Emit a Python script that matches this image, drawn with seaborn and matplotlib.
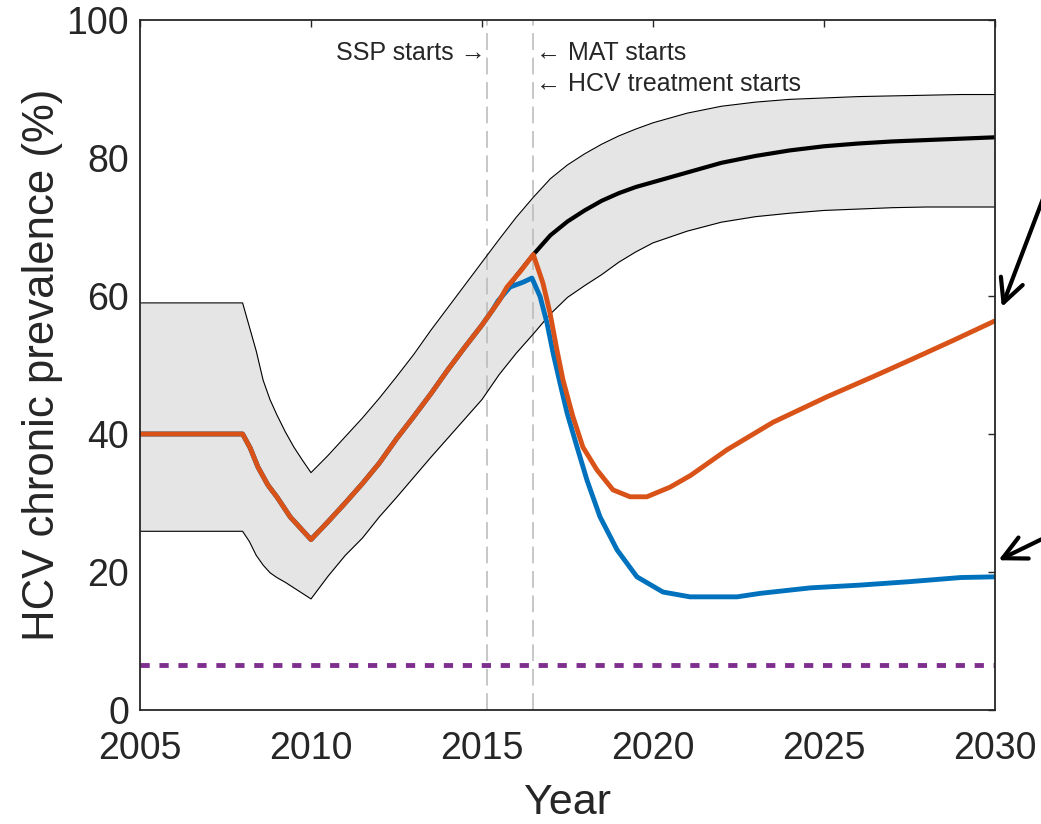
import matplotlib
matplotlib.use("Agg")
import matplotlib.pyplot as plt
import seaborn as sns
import pandas as pd

# ---- uncertainty band (upper / lower bounds of chronic prevalence, %) ----
band_years = [2005, 2008, 2008.2, 2008.4, 2008.6, 2008.8, 2009.0, 2009.25, 2009.5,
              2009.75, 2010.0, 2010.5, 2011.0, 2011.5, 2012.0, 2012.5, 2013.0, 2013.5,
              2014.0, 2014.5, 2015.0, 2015.5, 2016.0, 2016.5, 2017.0, 2017.5, 2018.0,
              2018.5, 2019.0, 2019.5, 2020.0, 2021.0, 2022.0, 2023.0, 2024.0, 2025.0,
              2026.0, 2027.0, 2028.0, 2029.0, 2030.0]
band_upper = [59.0, 59.0, 55.5, 52.0, 47.8, 45.0, 42.8, 40.3, 38.1,
              36.2, 34.4, 36.9, 39.6, 42.3, 45.2, 48.3, 51.5, 55.0,
              58.3, 61.6, 64.9, 68.2, 71.4, 74.3, 77.0, 79.0, 80.6,
              82.0, 83.2, 84.2, 85.1, 86.5, 87.5, 88.1, 88.5, 88.7,
              88.9, 89.0, 89.1, 89.2, 89.2]
band_lower = [25.9, 25.9, 24.4, 22.4, 21.0, 19.9, 19.2, 18.5, 17.7,
              16.9, 16.1, 19.4, 22.4, 24.9, 28.0, 30.8, 33.7, 36.6,
              39.4, 42.2, 45.0, 48.6, 51.7, 54.5, 57.4, 59.8, 61.5,
              63.1, 64.9, 66.4, 67.7, 69.4, 70.7, 71.5, 72.0, 72.4,
              72.6, 72.8, 72.9, 72.9, 72.9]

# ---- fitted trajectory before interventions ----
base_years = [2005, 2008, 2008.22, 2008.45, 2008.74, 2009.0, 2009.39, 2009.74, 2010.0,
              2010.5, 2011.0, 2011.5, 2012.0, 2012.5, 2013.0, 2013.5, 2014.0, 2014.5,
              2015.0, 2015.3]
base_vals = [40.0, 40.0, 38.0, 35.2, 32.6, 30.9, 28.0, 26.1, 24.7,
             27.3, 30.0, 32.8, 35.8, 39.3, 42.5, 45.8, 49.3, 52.6,
             55.8, 57.9]

# ---- no-intervention projection (median) ----
median_years = [2015.5, 2016.0, 2016.5, 2017.0, 2017.5, 2018.0, 2018.5, 2019.0, 2019.5,
                2020.0, 2020.5, 2021.0, 2022.0, 2023.0, 2024.0, 2025.0, 2026.0, 2027.0,
                2028.0, 2029.0, 2030.0]
median_vals = [59.3, 62.9, 66.0, 68.8, 70.8, 72.4, 73.8, 74.9, 75.8,
               76.5, 77.2, 77.9, 79.3, 80.3, 81.1, 81.7, 82.1, 82.4, 82.6, 82.8, 83.0]

# ---- scenario with SSP + MAT (orange) ----
orange_years = [2015.5, 2015.73, 2016.11, 2016.5, 2016.78, 2016.99, 2017.19, 2017.37,
                2017.66, 2017.95, 2018.36, 2018.83, 2019.33, 2019.82, 2020.5, 2021.1,
                2022.16, 2023.51, 2025.09, 2026.43, 2027.51, 2028.75, 2030.0]
orange_vals = [59.3, 61.3, 63.5, 66.0, 61.9, 57.5, 52.2, 47.8,
               42.5, 38.1, 34.8, 31.9, 30.9, 30.9, 32.3, 34.0,
               37.7, 41.7, 45.4, 48.3, 50.7, 53.5, 56.4]

# ---- scenario with SSP + MAT + HCV treatment (blue) ----
blue_years = [2015.47, 2015.82, 2016.2, 2016.46, 2016.7, 2016.9, 2017.08, 2017.28,
              2017.49, 2017.78, 2018.07, 2018.45, 2018.95, 2019.53, 2020.29, 2021.08,
              2022.46, 2023.13, 2024.6, 2026.05, 2027.5, 2029.0, 2030.0]
blue_vals = [59.3, 61.3, 62.0, 62.6, 59.9, 56.1, 51.7, 47.4,
             43.0, 38.1, 33.3, 28.0, 23.2, 19.3, 17.1, 16.4,
             16.4, 16.9, 17.7, 18.1, 18.6, 19.2, 19.3]

# ---- elimination target ----
target_years = [2005, 2030]
target_vals = [6.5, 6.5]

# ---- event markers ----
ssp_start = 2015.15
mat_start = 2016.5

x_ticks = [2005, 2010, 2015, 2020, 2025, 2030]
y_ticks = [0, 20, 40, 60, 80, 100]

sns.set_theme(style="white")
plt.rcParams["font.family"] = ["Liberation Sans", "DejaVu Sans"]
text_col = (0.15, 0.15, 0.15)

fig = plt.figure(figsize=(10.41, 8.24), dpi=100)
ax = fig.add_axes([140 / 1041, 1 - 710 / 824, 855 / 1041, 690 / 824])

band = pd.DataFrame({"year": band_years, "upper": band_upper, "lower": band_lower})
ax.fill_between(band["year"], band["lower"], band["upper"], color="#e5e5e5", lw=0, zorder=1)
sns.lineplot(data=band, x="year", y="upper", ax=ax, color="black", lw=0.8,
             estimator=None, sort=False, zorder=2)
sns.lineplot(data=band, x="year", y="lower", ax=ax, color="black", lw=0.8,
             estimator=None, sort=False, zorder=2)

base = pd.DataFrame({"year": base_years, "value": base_vals})
med = pd.concat([base, pd.DataFrame({"year": median_years, "value": median_vals})])
orange = pd.concat([base, pd.DataFrame({"year": orange_years, "value": orange_vals})])
blue = pd.concat([base, pd.DataFrame({"year": blue_years, "value": blue_vals})])
target = pd.DataFrame({"year": target_years, "value": target_vals})

for yr in (ssp_start, mat_start):
    ax.axvline(yr, color=(0.72, 0.72, 0.72), lw=1.1, dashes=(11, 5), zorder=1.5)

sns.lineplot(data=med, x="year", y="value", ax=ax, color="black", lw=3.0,
             estimator=None, sort=False, zorder=3)
sns.lineplot(data=blue, x="year", y="value", ax=ax, color="#0072BD", lw=3.5,
             estimator=None, sort=False, zorder=4)
sns.lineplot(data=orange, x="year", y="value", ax=ax, color="#D95319", lw=3.5,
             estimator=None, sort=False, zorder=5)
line, = ax.plot(target["year"], target["value"], color="#7E2F8E", lw=3.5, zorder=4)
line.set_dashes((1.9, 2.0))

ax.text(ssp_start - 0.05, 95.2, "SSP starts \u2192", ha="right", va="center",
        fontsize=18, color=text_col)
ax.text(mat_start + 0.08, 95.2, "\u2190 MAT starts", ha="left", va="center",
        fontsize=18, color=text_col)
ax.text(mat_start + 0.08, 90.7, "\u2190 HCV treatment starts", ha="left", va="center",
        fontsize=18, color=text_col)

ax.set_xlim(2005, 2030)
ax.set_ylim(0, 100)
ax.set_xticks(x_ticks)
ax.set_yticks(y_ticks)
ax.set_xlabel("Year", fontsize=31, color=text_col, labelpad=12)
ax.set_ylabel("HCV chronic prevalence (%)", fontsize=31.5, color=text_col, labelpad=2)
ax.tick_params(axis="both", which="major", direction="in", length=5, width=1,
               labelsize=27, colors=text_col, top=True, right=True)
ax.tick_params(axis="x", pad=15)
ax.tick_params(axis="y", pad=8)
for sp in ax.spines.values():
    sp.set_visible(True)
    sp.set_color(text_col)
    sp.set_linewidth(1.3)
    sp.set_zorder(6)

arrow_kw = dict(arrowstyle="->,head_length=0.7,head_width=0.35", color="black",
                lw=3.0, mutation_scale=24, shrinkA=0, shrinkB=0)
ax.annotate("", xy=(1.008, 0.584), xycoords="axes fraction",
            xytext=(1.062, 0.76), textcoords="axes fraction",
            arrowprops=arrow_kw, annotation_clip=False)
ax.annotate("", xy=(1.004, 0.217), xycoords="axes fraction",
            xytext=(1.062, 0.252), textcoords="axes fraction",
            arrowprops=arrow_kw, annotation_clip=False)

fig.savefig("out.png", dpi=100)
